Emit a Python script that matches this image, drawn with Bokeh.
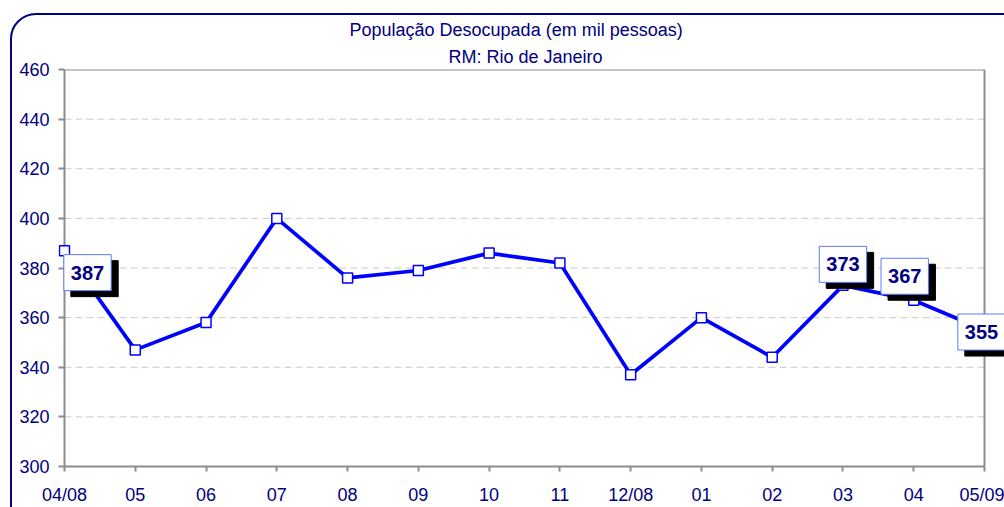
from bokeh.plotting import figure
from bokeh.models import Range1d, FixedTicker, Label, Title, InlineStyleSheet
from bokeh.embed import file_html
from bokeh.resources import INLINE

# ---- data ----
months = ["04/08", "05", "06", "07", "08", "09", "10", "11",
          "12/08", "01", "02", "03", "04", "05/09"]
values = [387, 347, 358, 400, 376, 379, 386, 382, 337, 360, 344, 373, 367, 355]
title_line1 = "População Desocupada (em mil pessoas)"
title_line2 = "RM: Rio de Janeiro"
y_ticks = [300, 320, 340, 360, 380, 400, 420, 440, 460]

# labelled points: index -> (x_offset px, y_offset px) of the value box
label_style = {0: (23, -22), 11: (0, 21), 12: (-9, 24), 13: (-3, -2)}

NAVY = "#000080"
BLUE = "#0000ff"
GRAY = "#8c8c8c"
FONT = "Liberation Sans"

W, H = 1004, 507
LEFT_PAD = 6          # frame starts this many px left of the first category
AXIS_LEFT = 64        # px where the first category sits
AXIS_RIGHT = 984      # px where the last category sits
TOP, BOTTOM = 69, 467

xs = list(range(len(months)))
n = len(months) - 1
ppu = (AXIS_RIGHT - AXIS_LEFT) / n
x_start = -LEFT_PAD / ppu
x_end = n + (W - AXIS_RIGHT) / ppu

p = figure(width=W, height=H, output_backend="svg", toolbar_location=None,
           x_range=Range1d(x_start, x_end), y_range=Range1d(y_ticks[0], y_ticks[-1]),
           min_border_left=AXIS_LEFT - LEFT_PAD, min_border_right=0,
           min_border_top=TOP, min_border_bottom=H - BOTTOM)

p.background_fill_color = "white"
p.border_fill_color = "white"
p.outline_line_color = None

# titles (p.title is outermost)
p.title.text = title_line1
p.title.align = "left"
p.title.offset = 291
p.title.text_font = FONT
p.title.text_font_size = "18px"
p.title.text_font_style = "normal"
p.title.text_color = NAVY
p.title.standoff = 5
p.add_layout(Title(text=title_line2, align="left", offset=390, text_font=FONT,
                   text_font_size="18px", text_font_style="normal",
                   text_color=NAVY, standoff=5), "above")

# axes
for ax in (p.xaxis[0], p.yaxis[0]):
    ax.major_tick_line_color = GRAY
    ax.major_tick_line_width = 2
    ax.minor_tick_line_color = None
    ax.major_label_text_color = NAVY
    ax.major_label_text_font = FONT
    ax.major_label_text_font_size = "18px"

p.xaxis.ticker = FixedTicker(ticks=xs)
p.xaxis.major_label_overrides = {i: m for i, m in enumerate(months)}
p.xaxis.bounds = (0, n)
p.xaxis.axis_line_color = GRAY
p.xaxis.axis_line_width = 2
p.xaxis.major_tick_in = 0
p.xaxis.major_tick_out = 5
p.xaxis.major_label_standoff = 13

p.yaxis.ticker = FixedTicker(ticks=y_ticks)
p.yaxis.axis_line_color = None
p.yaxis.major_tick_out = 0
p.yaxis.major_tick_in = LEFT_PAD
p.yaxis.major_label_standoff = 9

p.xgrid.grid_line_color = None
p.ygrid.grid_line_color = None

# dashed horizontal grid lines, between the plot-area borders
grid_y = y_ticks[1:-1]
p.segment(x0=[0] * len(grid_y), x1=[n] * len(grid_y), y0=grid_y, y1=grid_y,
          line_color="#c8c8c8", line_width=1, line_dash="7 4")

# plot-area border (left, top, right)
p.segment(x0=[0, 0, n], x1=[0, n, n],
          y0=[y_ticks[0], y_ticks[-1], y_ticks[0]],
          y1=[y_ticks[-1], y_ticks[-1], y_ticks[-1]],
          line_color=GRAY, line_width=2)

# series
p.line(xs, values, line_color=BLUE, line_width=3.7)
p.scatter(xs, values, marker="square", size=10, fill_color="white",
          line_color=BLUE, line_width=1.5)

# value boxes with shadow
for i, (dx, dy) in label_style.items():
    common = dict(x=xs[i], y=values[i], text=str(values[i]), text_font=FONT,
                  text_font_size="20px", text_font_style="bold",
                  text_align="center", text_baseline="middle", padding=(7, 11))
    p.add_layout(Label(x_offset=dx + 7, y_offset=dy - 6, text_color="black",
                       background_fill_color="black", border_line_color="black",
                       **common))
    p.add_layout(Label(x_offset=dx, y_offset=dy, text_color=NAVY,
                       background_fill_color="white", border_line_color="#5a7cff",
                       border_line_width=1, **common))

# rounded chart border (decoration around the whole chart)
p.stylesheets = [InlineStyleSheet(css="""
:host { position: relative; overflow: hidden; }
:host::after {
  content: ""; position: absolute; left: 10px; top: 13px;
  width: 1040px; height: 540px; box-sizing: border-box;
  border: 2.5px solid #000080; border-radius: 26px;
  pointer-events: none; z-index: 10;
}
""")]

open("out.html", "w").write(file_html(p, INLINE))
